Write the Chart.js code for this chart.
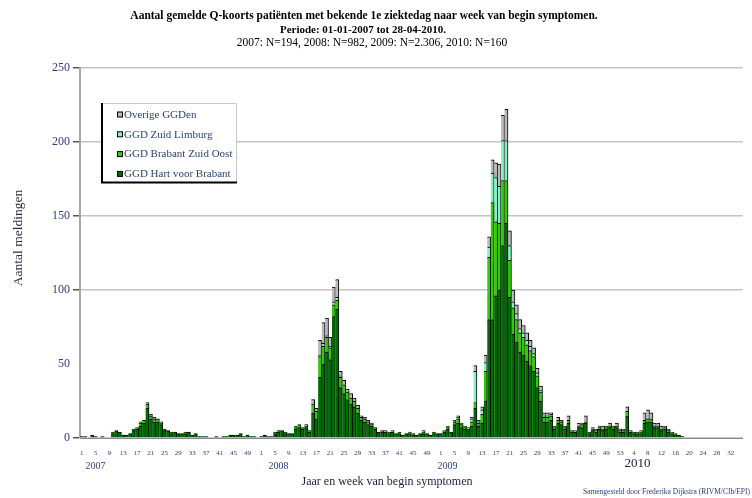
<!DOCTYPE html>
<html>
<head>
<meta charset="utf-8">
<script src="https://cdn.jsdelivr.net/npm/chart.js@4.4.1/dist/chart.umd.min.js"></script>
<style>
  body { margin: 0; background: #fff; }
  canvas { display: block; }
</style>
</head>
<body>
<canvas id="qkoorts" width="752" height="498"></canvas>
<script>
// weeks per year shown on the axis (2010 runs on past the last report)
const yearWeeks = [[2007, 52], [2008, 52], [2009, 53], [2010, 35]]
// year captions under the week numbers: [year, week they sit under]
const yearLabels = [['2007', 5], ['2008', 6], ['2009', 3], ['2010', 5]]

const titleLines = [
  'Aantal gemelde Q-koorts patiënten met bekende 1e ziektedag naar week van begin symptomen.',
  'Periode: 01-01-2007 tot 28-04-2010.',
  '2007: N=194, 2008: N=982, 2009: N=2.306, 2010: N=160'
]

const seriesNames = ['GGD Hart voor Brabant', 'GGD Brabant Zuid Oost', 'GGD Zuid Limburg', 'Overige GGDen']

const hartVoorBrabant = [
  // 2007
  1,1,0,2,1,0,1,0,0,3, 5,4,2,2,3,5,6,8,10,20, 13,11,11,9,5,5,3,4,3,3,
  3,4,2,3,1,1,1,0,0,1, 0,1,1,2,2,2,3,1,2,1, 1,0,
  // 2008
  1,2,1,1,3,4,5,3,3,3, 6,7,6,7,4,17,13,41,50,58, 53,82,87,34,30,26,23,21,17,12,
  11,9,8,6,4,4,4,3,4,3, 3,2,3,3,2,2,3,3,3,2, 3,3,
  // 2009
  3,4,6,4,9,10,7,6,5,8, 20,8,10,25,80,80,96,100,130,145, 95,70,65,58,56,52,49,45,34,25,
  11,11,12,6,10,9,6,10,4,4, 7,7,10,3,5,4,6,5,6,7, 6,7,4,
  // 2010
  4,15,4,3,3,3,10,11,11,7, 7,5,6,4,3,2,2,1,0,0, 0,0,0,0,0,0,0,0,0,0, 0,0,0,0,0
]

const brabantZuidOost = [
  // 2007
  0,0,0,0,0,0,0,0,0,1, 0,0,0,0,0,1,1,2,2,3, 2,2,2,1,1,0,1,0,0,0,
  1,0,0,0,0,0,0,0,0,0, 0,0,0,0,0,0,0,0,0,0, 0,0,
  // 2008
  0,0,0,0,1,1,0,1,0,0, 1,2,1,1,1,6,5,14,12,10, 8,8,6,7,6,5,4,4,3,2,
  2,2,1,1,0,1,0,1,0,0, 1,0,0,0,1,0,0,1,0,0, 1,0,
  // 2009
  0,1,1,0,2,3,2,1,1,3, 4,2,6,20,42,79,50,45,44,29, 25,18,15,13,12,11,10,10,8,6,
  3,3,3,1,2,2,1,2,1,0, 1,2,1,1,1,1,1,1,1,1, 1,1,1,
  // 2010
  1,3,0,1,0,1,2,2,2,1, 1,1,1,1,0,1,0,0,0,0, 0,0,0,0,0,0,0,0,0,0, 0,0,0,0,0
]

const zuidLimburg = [
  // 2007
  0,0,0,0,0,0,0,0,0,0, 0,0,0,0,0,0,0,0,0,0, 1,0,0,0,0,0,0,0,0,0,
  0,0,0,0,0,0,0,0,0,0, 0,0,0,0,0,0,0,0,0,0, 0,0,
  // 2008
  0,0,0,0,0,0,0,0,0,0, 0,0,0,0,0,0,0,1,2,1, 1,2,2,1,0,0,0,0,0,0,
  0,0,0,0,0,0,0,0,0,0, 0,0,0,0,0,0,0,0,0,0, 0,0,
  // 2009
  0,0,0,0,0,1,0,0,1,2, 21,1,3,6,7,20,30,25,27,27, 10,4,4,3,3,3,3,2,2,1,
  1,1,1,0,0,0,0,0,0,0, 0,0,0,0,0,0,0,0,0,0, 0,0,0,
  // 2010
  0,0,0,0,0,0,0,0,0,0, 0,0,0,0,0,0,0,0,0,0, 0,0,0,0,0,0,0,0,0,0, 0,0,0,0,0
]

const overigeGGDen = [
  // 2007
  0,0,0,0,0,0,0,0,0,0, 0,0,0,0,0,0,0,1,0,1, 0,1,0,1,0,0,0,0,0,0,
  0,0,0,0,0,0,0,0,0,0, 0,0,0,0,0,0,0,0,0,0, 0,0,
  // 2008
  0,0,0,0,0,0,0,0,0,0, 1,0,0,1,0,3,2,10,14,12, 6,10,12,3,3,2,3,2,2,1,
  1,1,1,0,0,0,1,0,1,0, 0,0,0,1,0,0,0,1,0,0, 0,0,
  // 2009
  0,0,1,0,1,1,1,1,0,1, 4,1,2,5,7,9,10,15,17,21, 10,8,6,6,5,5,4,4,3,3,
  2,2,1,1,2,1,1,3,0,1, 2,1,4,0,1,1,1,2,1,2, 1,2,1,
  // 2010
  1,3,1,0,1,1,5,6,4,2, 2,2,1,1,1,0,0,0,0,0, 0,0,0,0,0,0,0,0,0,0, 0,0,0,0,0
]

const seriesColors = ['#006b00', '#36c80e', '#86f0c2', '#b9b9b9']
const serif = "'Liberation Serif', 'Times New Roman', serif"
const navy = '#2c3f78'

const weekLabels = []
yearWeeks.forEach(([year, n]) => {
  for (let w = 1; w <= n; w++) weekLabels.push(year + '-' + w)
})

const textLayer = {
  id: 'textLayer',
  afterDraw(chart) {
    const ctx = chart.ctx
    const x = chart.scales.x
    ctx.save()
    ctx.textBaseline = 'middle'
    ctx.textAlign = 'center'

    // titles
    ctx.fillStyle = '#000'
    ctx.font = 'bold 11.5px ' + serif
    ctx.fillText(titleLines[0], 364, 16)
    ctx.font = 'bold 11px ' + serif
    ctx.fillText(titleLines[1], 363, 30)
    ctx.font = '11.5px ' + serif
    ctx.fillText(titleLines[2], 372, 43)

    // year captions
    yearLabels.forEach(([year, week], i) => {
      const idx = weekLabels.indexOf(year + '-' + week)
      const last = i === yearLabels.length - 1
      ctx.font = (last ? '13px ' : '10px ') + serif
      ctx.fillStyle = last ? '#1a1a40' : navy
      ctx.fillText(year, x.getPixelForValue(idx), last ? 464 : 466)
    })

    // axis titles
    ctx.fillStyle = '#1e1e3c'
    ctx.font = '12px ' + serif
    ctx.fillText('Jaar en week van begin symptomen', 387, 482)
    ctx.save()
    ctx.translate(18, 238)
    ctx.rotate(-Math.PI / 2)
    ctx.font = '13.5px ' + serif
    ctx.fillStyle = '#303040'
    ctx.fillText('Aantal meldingen', 0, 0)
    ctx.restore()

    // credit
    ctx.textAlign = 'right'
    ctx.font = '7.5px ' + serif
    ctx.fillStyle = navy
    ctx.fillText('Samengesteld door Frederika Dijkstra (RIVM/CIb/EPI)', 750, 492)

    // legend box
    ctx.fillStyle = '#fff'
    ctx.fillRect(102, 103, 135, 80)
    ctx.lineWidth = 1
    ctx.strokeStyle = '#c8c8c8'
    ctx.beginPath()
    ctx.moveTo(102, 103.5); ctx.lineTo(236.5, 103.5); ctx.lineTo(236.5, 182)
    ctx.stroke()
    ctx.lineWidth = 2
    ctx.strokeStyle = '#000'
    ctx.beginPath()
    ctx.moveTo(102, 103); ctx.lineTo(102, 182.5); ctx.lineTo(237, 182.5)
    ctx.stroke()

    ctx.textAlign = 'left'
    ctx.font = '11px ' + serif
    const rows = chart.data.datasets.slice().reverse()
    rows.forEach((ds, i) => {
      const cy = 115 + i * 19.8
      ctx.fillStyle = ds.backgroundColor
      ctx.fillRect(117.5, cy - 3, 5, 5)
      ctx.lineWidth = 1
      ctx.strokeStyle = '#000'
      ctx.strokeRect(117.5, cy - 3, 5, 5)
      ctx.fillStyle = navy
      ctx.fillText(ds.label, 124, cy)
    })
    ctx.restore()
  }
}

const seriesData = [hartVoorBrabant, brabantZuidOost, zuidLimburg, overigeGGDen]

new Chart(document.getElementById('qkoorts'), {
  type: 'bar',
  data: {
    labels: weekLabels,
    datasets: seriesNames.map((name, i) => ({
      label: name,
      data: seriesData[i],
      backgroundColor: seriesColors[i],
      borderColor: '#000',
      borderWidth: { top: 1, right: 1 },
      barPercentage: 1,
      categoryPercentage: 1
    }))
  },
  options: {
    responsive: false,
    animation: false,
    layout: { padding: { top: 68, right: 7, left: 0, bottom: 0 } },
    plugins: {
      legend: { display: false },
      title: { display: false },
      tooltip: { enabled: false }
    },
    scales: {
      x: {
        stacked: true,
        grid: { display: false, drawTicks: false },
        border: { color: '#8a8a8a', width: 1 },
        ticks: {
          autoSkip: false,
          maxRotation: 0,
          minRotation: 0,
          padding: 11,
          color: navy,
          font: { family: serif, size: 7 },
          callback(value, index) {
            if (index % 4 !== 0) return ''
            return this.getLabelForValue(value).split('-')[1]
          }
        },
        afterFit(scale) { scale.height = 60 }
      },
      y: {
        stacked: true,
        min: 0,
        max: 250,
        ticks: {
          stepSize: 50,
          padding: 3,
          color: navy,
          font: { family: serif, size: 12 }
        },
        grid: {
          color: ctx => ctx.tick && ctx.tick.value === 50 ? 'rgba(0,0,0,0)' : '#c4c4c4',
          tickColor: ctx => ctx.tick && ctx.tick.value === 50 ? 'rgba(0,0,0,0)' : '#555',
          tickLength: 7,
          lineWidth: 1.5
        },
        border: { color: '#a8a8a8', width: 2 },
        afterFit(scale) { scale.width = 80 }
      }
    }
  },
  plugins: [textLayer]
})
</script>
</body>
</html>
